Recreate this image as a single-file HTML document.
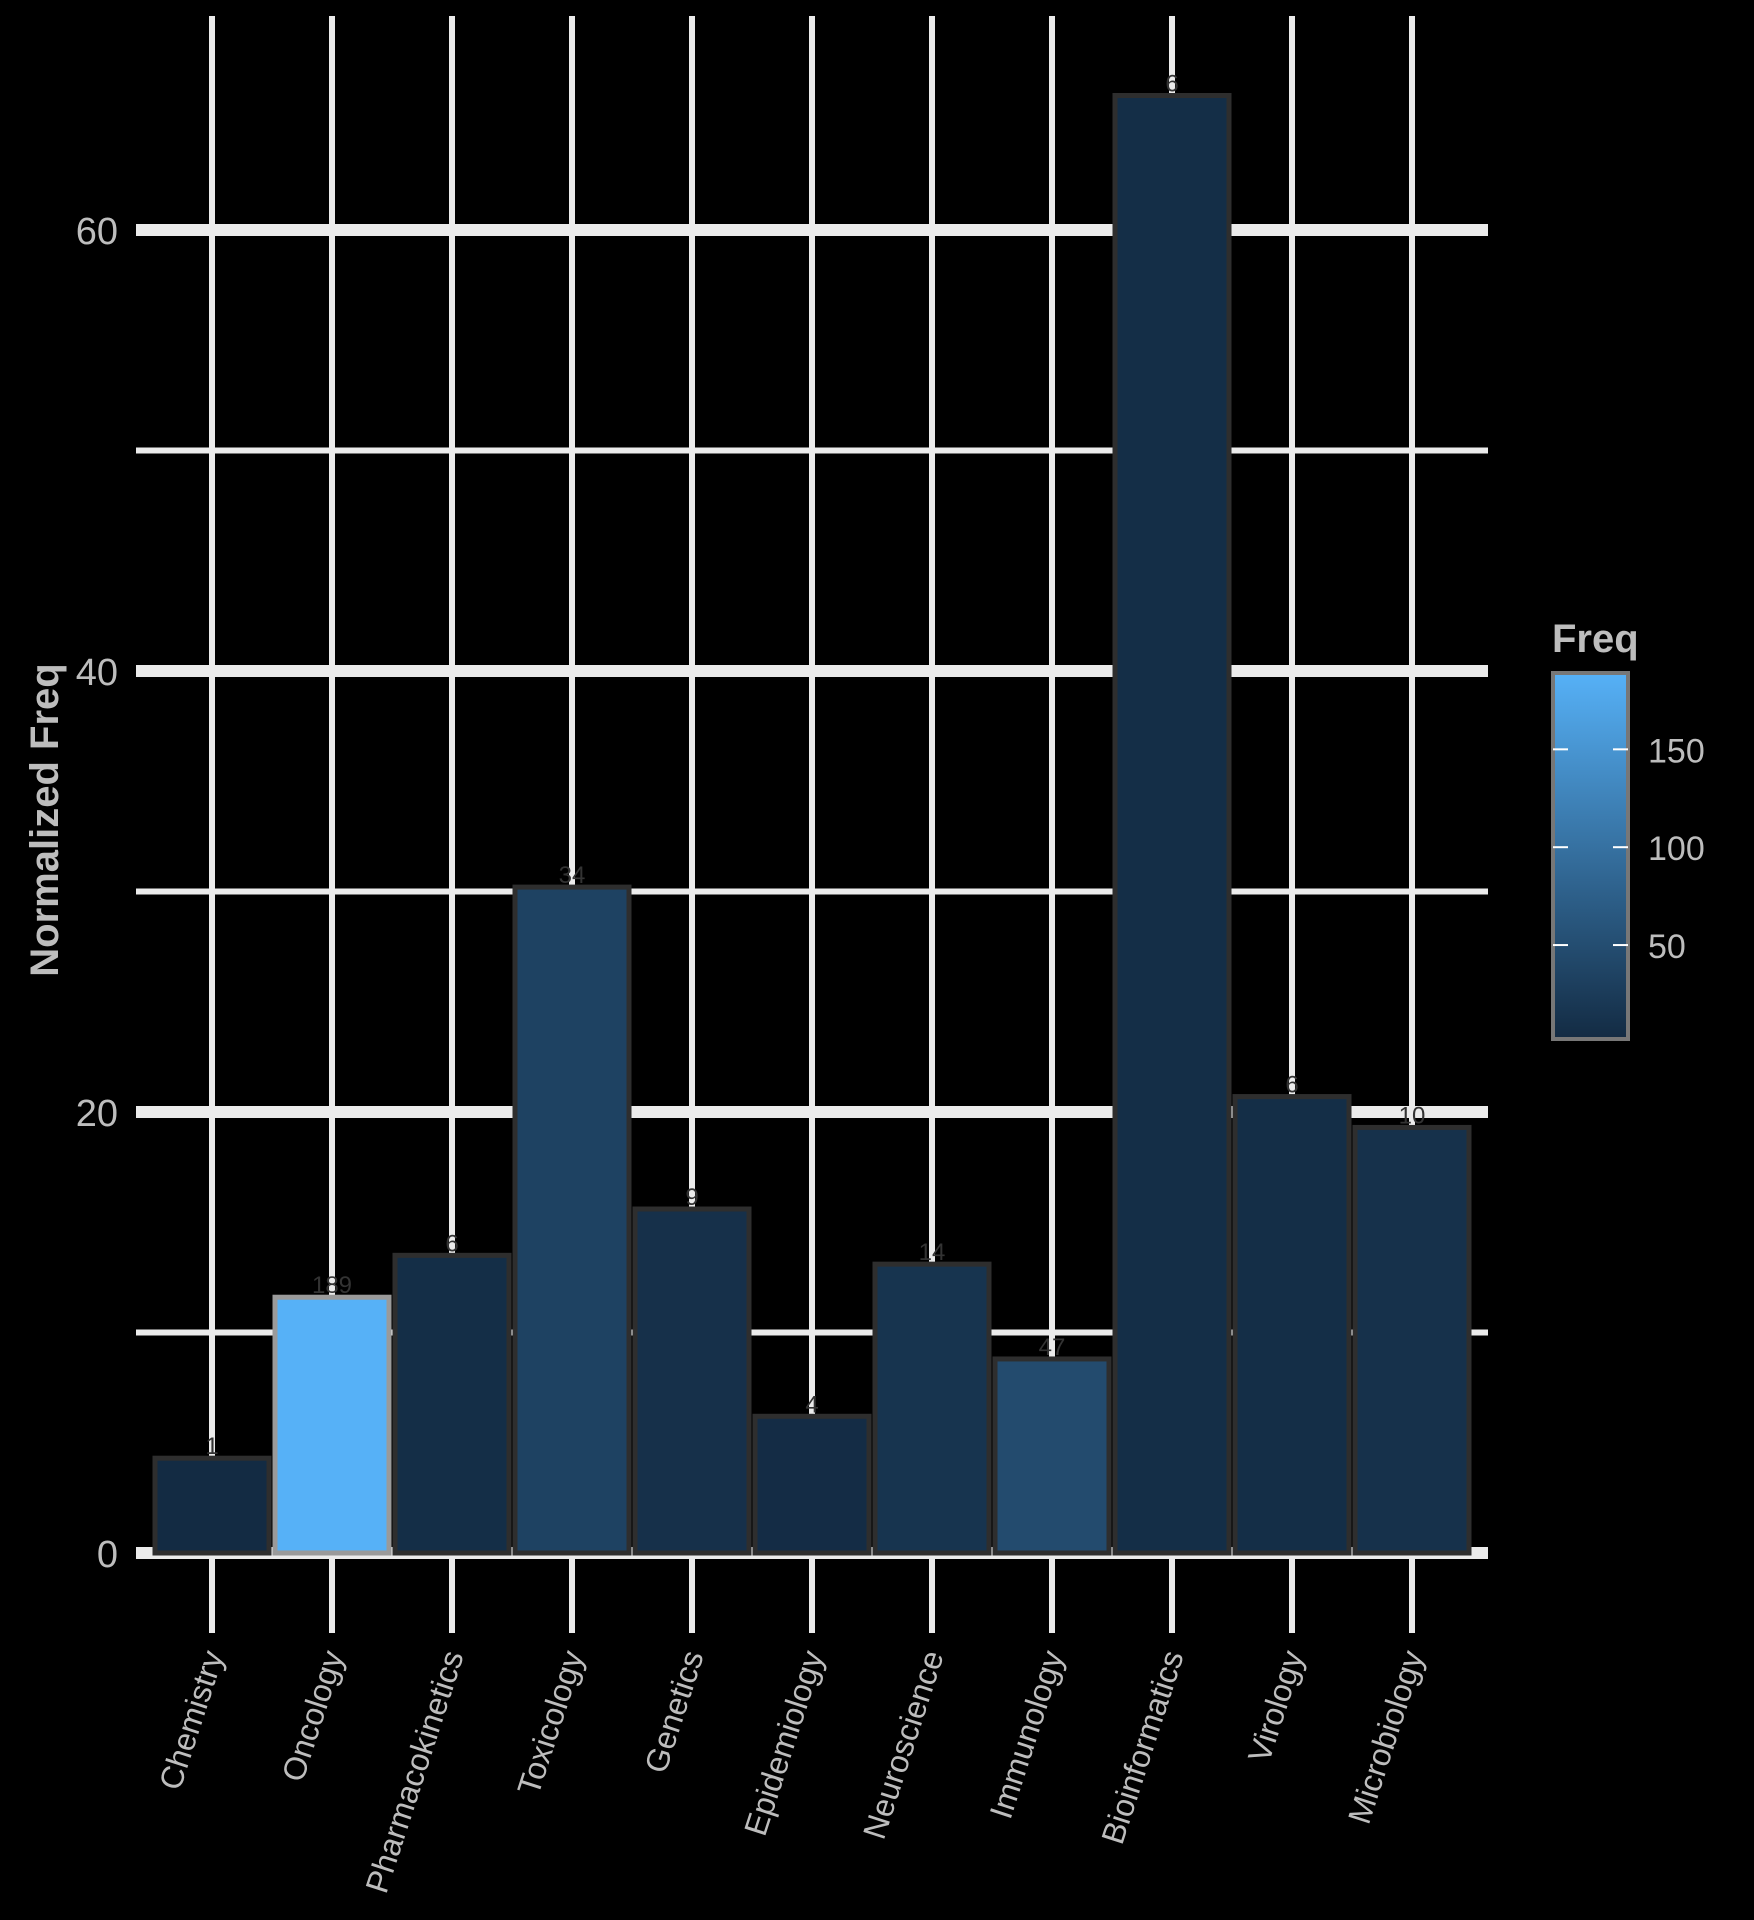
<!DOCTYPE html>
<html><head><meta charset="utf-8"><style>
html,body{margin:0;padding:0;background:#000;}
svg{display:block;font-family:"Liberation Sans",sans-serif;}
</style></head><body>
<svg id="chart" width="1754" height="1920" viewBox="0 0 1754 1920" xmlns="http://www.w3.org/2000/svg">
<rect x="0" y="0" width="1754" height="1920" fill="#000"/>
<g id="grid"></g><g id="bars"></g><g id="labels"></g><g id="axes"></g>
<text x="0" y="0" transform="translate(58,820) rotate(-90)" text-anchor="middle" font-size="40" font-weight="bold" fill="#bdbdbd">Normalized Freq</text>
<text x="1552" y="652" font-size="40" font-weight="bold" fill="#bdbdbd">Freq</text>
<defs><linearGradient id="lg" x1="0" y1="1" x2="0" y2="0"><stop offset="0" stop-color="#132B43"/><stop offset="1" stop-color="#56B1F7"/></linearGradient></defs>
<rect x="1553" y="673" width="75" height="366" fill="url(#lg)" stroke="#777" stroke-width="4"/>
<g id="legend"></g>
</svg>
<script>
const categories=["Chemistry","Oncology","Pharmacokinetics","Toxicology","Genetics","Epidemiology","Neuroscience","Immunology","Bioinformatics","Virology","Microbiology"];
const values=[4.3,11.6,13.5,30.2,15.6,6.2,13.1,8.8,66.1,20.7,19.3];
const freqs=[1,189,6,34,9,4,14,47,6,6,10];
const yTicks=[0,20,40,60];
const yMinor=[10,30,50];
const legendTicks=[50,100,150];
const NS="http://www.w3.org/2000/svg";
const x0=212,step=120,bw=120,yBase=1553,perUnit=22.05;
const fMin=2,fMax=189;
function xs(i){return x0+step*i;}
function ys(v){return yBase-v*perUnit;}
function col(f){const t=Math.max(0,Math.min(1,(f-fMin)/(fMax-fMin)));const a=[0x13,0x2B,0x43],b=[0x56,0xB1,0xF7];return "rgb("+a.map((c,k)=>Math.round(c+(b[k]-c)*t)).join(",")+")";}
function mk(tag,attrs,parent){const e=document.createElementNS(NS,tag);for(const k in attrs)e.setAttribute(k,attrs[k]);document.getElementById(parent).appendChild(e);return e;}
yMinor.forEach(v=>{const l=mk("line",{x1:136,x2:1488,y1:ys(v),y2:ys(v),stroke:"#ebebeb","stroke-width":6},"grid");

});
yTicks.forEach(v=>{const l=mk("line",{x1:136,x2:1488,y1:ys(v),y2:ys(v),stroke:"#ebebeb","stroke-width":12},"grid");


const t=mk("text",{x:118,y:ys(v)+14,"text-anchor":"end","font-size":38,fill:"#bdbdbd"},"axes");t.textContent=v;

});
categories.forEach((c,i)=>{const l=mk("line",{x1:xs(i),x2:xs(i),y1:16,y2:1633,stroke:"#ebebeb","stroke-width":6},"grid");


const r=mk("rect",{x:xs(i)-bw/2+3,y:ys(values[i]),width:bw-6,height:yBase-ys(values[i]),fill:col(freqs[i]),stroke:freqs[i]>150?"#9a9a9a":"#2e2e2e","stroke-width":5},"bars");


const lb=mk("text",{x:xs(i),y:ys(values[i])-4,"text-anchor":"middle","font-size":24,fill:"#333"},"labels");lb.textContent=freqs[i];


const xl=mk("text",{x:0,y:0,transform:"translate("+(xs(i)+12)+",1655) rotate(-72)","text-anchor":"end","font-size":32,fill:"#bdbdbd"},"axes");xl.textContent=c;

});
legendTicks.forEach(v=>{const y=1039-(v-fMin)/(fMax-fMin)*366;
const a=mk("line",{x1:1553,x2:1568,y1:y,y2:y,stroke:"#fff","stroke-width":2},"legend");


const b=mk("line",{x1:1613,x2:1628,y1:y,y2:y,stroke:"#fff","stroke-width":2},"legend");


const t=mk("text",{x:1648,y:y+13,"font-size":34,fill:"#bdbdbd"},"legend");t.textContent=v;

});
</script>
</body></html>
